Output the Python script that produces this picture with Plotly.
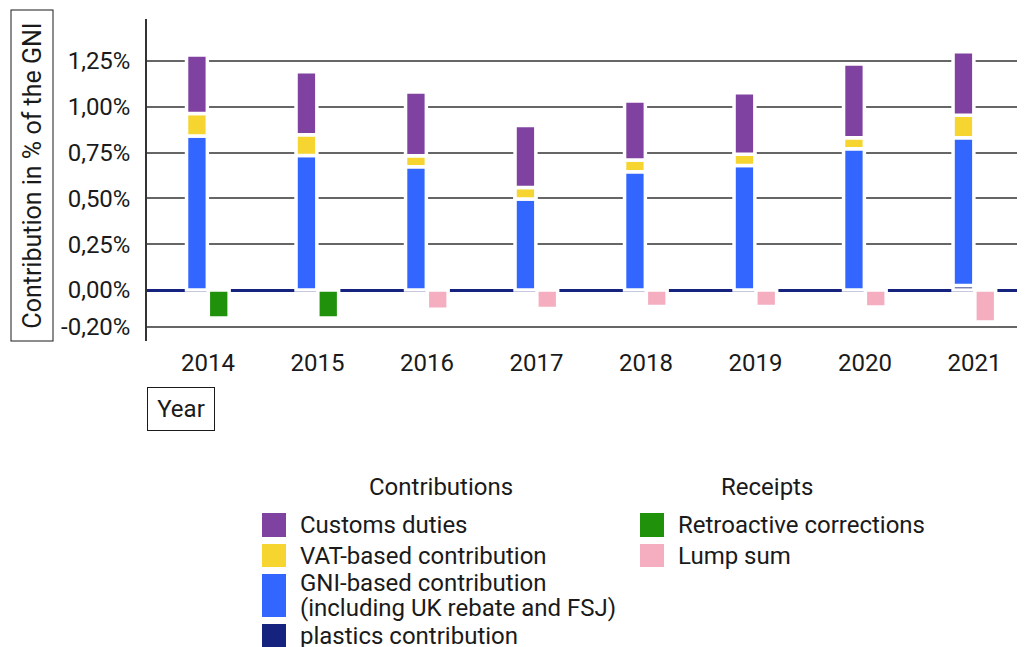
import plotly.graph_objects as go

# ---------------- data ----------------
years = ["2014", "2015", "2016", "2017", "2018", "2019", "2020", "2021"]
plastics = [None, None, None, None, None, None, None, 0.025]
gni = [0.840, 0.734, 0.673, 0.497, 0.646, 0.680, 0.771, 0.806]
vat = [0.123, 0.114, 0.060, 0.063, 0.063, 0.061, 0.060, 0.123]
customs = [0.319, 0.343, 0.347, 0.338, 0.322, 0.335, 0.403, 0.346]
retro = [-0.152, -0.152, None, None, None, None, None, None]
lump = [None, None, -0.105, -0.100, -0.090, -0.090, -0.092, -0.174]

y_tickvals = [-0.20, 0.0, 0.25, 0.50, 0.75, 1.00, 1.25]
y_ticktext = ["-0,20%", "0,00%", "0,25%", "0,50%", "0,75%", "1,00%", "1,25%"]

contrib_names = ["Customs duties", "VAT-based contribution",
                 "GNI-based contribution<br>(including UK rebate and FSJ)",
                 "plastics contribution"]
receipt_names = ["Retroactive corrections", "Lump sum"]

# ---------------- styles ----------------
C_CUSTOMS = "#7f42a0"
C_VAT = "#f6d530"
C_GNI = "#3366ff"
C_PLAST = "#15237e"
C_RETRO = "#1f910b"
C_LUMP = "#f4aec0"
FONT = "Roboto"
TXT = "#1a1a1a"

W, H = 1025, 647
OX, OY = 8, 8          # page body margin offset
# plot area in screen pixels
PL, PR, PT, PB = 147, 1025, 19, 341
ML = PL - OX
MT = PT - OY
MR = W - (PR - OX)
MB = H - (PB - OY)
PW, PH = PR - PL, PB - PT

BAR_W = 0.19
OFF_C = -0.196
OFF_R = 0.003

fig = go.Figure()

def add_bar(vals, name, color, offset):
    fig.add_trace(go.Bar(
        x=years, y=vals, name=name, offset=offset, width=BAR_W,
        marker=dict(color=color, line=dict(color="white", width=3.5)),
        showlegend=False))

add_bar(plastics, "plastics contribution", C_PLAST, OFF_C)
add_bar(gni, "GNI-based contribution", C_GNI, OFF_C)
add_bar(vat, "VAT-based contribution", C_VAT, OFF_C)
add_bar(customs, "Customs duties", C_CUSTOMS, OFF_C)
add_bar(retro, "Retroactive corrections", C_RETRO, OFF_R)
add_bar(lump, "Lump sum", C_LUMP, OFF_R)

fig.update_layout(
    width=W, height=H, barmode="relative",
    margin=dict(l=ML, r=MR, t=MT, b=MB, pad=0),
    plot_bgcolor="white", paper_bgcolor="white",
    font=dict(family=FONT, size=24, color=TXT),
    showlegend=False,
)
fig.update_xaxes(
    type="category", range=[-0.557, 7.461], showgrid=False, showline=False,
    ticks="", ticklabelstandoff=5, tickfont=dict(size=24, color=TXT),
    fixedrange=True,
)
fig.update_yaxes(
    range=[-0.278, 1.479], tickvals=y_tickvals, ticktext=y_ticktext,
    showgrid=True, gridcolor="#666666", gridwidth=1.5,
    zeroline=True, zerolinecolor="#15237e", zerolinewidth=3,
    showline=True, linecolor="#333333", linewidth=1.5,
    ticks="", ticklabelstandoff=10, tickfont=dict(size=24, color=TXT),
    fixedrange=True,
)

def px_x(px):
    return (px - PL) / PW

def px_y(py):
    return (PB - py) / PH

# axis title boxes
fig.add_annotation(
    xref="paper", yref="paper", x=px_x(31.5), y=px_y(176),
    text="Contribution in % of the GNI", textangle=-90,
    showarrow=False, font=dict(size=25, color=TXT),
    width=330, height=41, borderpad=0,
    bordercolor=TXT, borderwidth=1, xanchor="center", yanchor="middle")
fig.add_annotation(
    xref="paper", yref="paper", x=px_x(180.5), y=px_y(408.5),
    text="Year", showarrow=False, font=dict(size=24, color=TXT),
    width=66, height=42, borderpad=0,
    bordercolor=TXT, borderwidth=1, xanchor="center", yanchor="middle")

# manual legend (two groups with titles)
legend_groups = [
    ("Contributions", 441, 262, contrib_names,
     [C_CUSTOMS, C_VAT, C_GNI, C_PLAST], [(513, 537), (544, 567), (574, 617), (624, 647)]),
    ("Receipts", 767, 640, receipt_names,
     [C_RETRO, C_LUMP], [(513, 537), (544, 567)]),
]
for title, tx, sx, names, colors, spans in legend_groups:
    fig.add_annotation(xref="paper", yref="paper", x=px_x(tx), y=px_y(487),
                       text=title, showarrow=False, xanchor="center", yanchor="middle",
                       font=dict(size=24, color=TXT))
    for name, col, (y0, y1) in zip(names, colors, spans):
        fig.add_shape(type="rect", xref="paper", yref="paper",
                      x0=px_x(sx), x1=px_x(sx + 24), y0=px_y(y1), y1=px_y(y0),
                      fillcolor=col, line=dict(width=0), layer="above")
        lines = name.split("<br>")
        n = len(lines)
        cy = (y0 + y1) / 2
        for i, ln in enumerate(lines):
            ly = cy + (i - (n - 1) / 2) * 25
            fig.add_annotation(xref="paper", yref="paper", x=px_x(sx + 35.5), y=px_y(ly),
                               text=ln, showarrow=False, xanchor="left", yanchor="middle",
                               font=dict(size=24, color=TXT))

fig.write_html("out.html", config={"displayModeBar": False})
